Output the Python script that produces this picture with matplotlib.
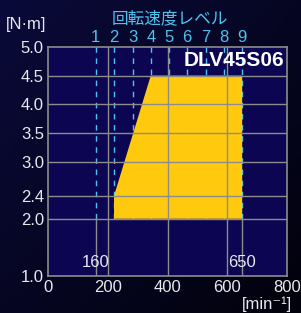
import numpy as np
import matplotlib.pyplot as plt
from matplotlib.colors import LinearSegmentedColormap
from matplotlib.patches import Polygon

# speed levels (1..9) and their rpm positions
levels = ["1", "2", "3", "4", "5", "6", "7", "8", "9"]
level_rpm = [160, 221, 283, 344, 405, 466, 528, 589, 650]

# operating area outline [min^-1], [N·m]
area_rpm = [221, 221, 344, 650, 650]
area_torque = [2.0, 2.4, 4.5, 4.5, 2.0]

xticks = [0, 200, 400, 600, 800]
yticks = [1.0, 2.0, 2.4, 3.0, 3.5, 4.0, 4.5, 5.0]

num_font = ["Liberation Sans Narrow", "DejaVu Sans Condensed", "Liberation Sans", "DejaVu Sans"]
cjk_font = ["Noto Sans CJK JP", "DejaVu Sans"]

navy = "#0b0552"
yellow = "#ffc90e"
grid_c = "#8c8c8c"
cyan = "#4ec3f0"
light = "#e8e8ee"

fig = plt.figure(figsize=(3.01, 3.13), dpi=100)
fig.patch.set_facecolor("#05041c")

# background gradient (dark left/bottom -> navy top right)
bg = fig.add_axes([0, 0, 1, 1], zorder=-5)
gx, gy = np.meshgrid(np.linspace(0, 1, 50), np.linspace(0, 1, 50))
bg.imshow(gx * 0.5 + gy * 0.5, cmap=LinearSegmentedColormap.from_list("bg", ["#0a0a3a", "#02020c"]),
          extent=[0, 1, 0, 1], aspect="auto")
bg.axis("off")

ax = fig.add_axes([48 / 301, 1 - 276 / 313, 239 / 301, 229 / 313])
ax.set_facecolor(navy)
ax.set_xlim(0, 800)
ax.set_ylim(1.0, 5.0)

# dashed level lines (behind the area)
for r in level_rpm:
    ax.plot([r, r], [2.0, 5.0], color=cyan, lw=1, ls=(0, (4, 4)), zorder=1)
# solid reference lines at 160 / 650 below 2.0
for r in [level_rpm[0], level_rpm[-1]]:
    ax.plot([r, r], [1.0, 2.0], color=grid_c, lw=1, zorder=3)

ax.add_patch(Polygon(np.column_stack([area_rpm, area_torque]), closed=True,
                     facecolor=yellow, edgecolor="none", zorder=2))

# grid
for x in xticks[1:-1]:
    ax.axvline(x, color=grid_c, lw=1, zorder=3)
for y in yticks[1:-1]:
    ax.axhline(y, color=grid_c, lw=1, zorder=3)

for s in ax.spines.values():
    s.set_color(grid_c)
    s.set_linewidth(1.2)
    s.set_zorder(4)

ax.set_xticks(xticks)
ax.set_yticks(yticks)
ax.set_xticklabels([str(v) for v in xticks], family=num_font, fontsize=12, color=light)
ax.set_yticklabels([f"{v:.1f}" for v in yticks], family=num_font, fontsize=12, color=light)
ax.tick_params(length=0, pad=3)

# in-plot labels
ax.text(level_rpm[0], 1.1, "160", family=num_font, fontsize=12, color=light,
        ha="center", va="bottom", zorder=5)
ax.text(level_rpm[-1], 1.1, "650", family=num_font, fontsize=12, color=light,
        ha="center", va="bottom", zorder=5)
ax.text(790, 4.76, "DLV45S06", family=num_font, fontsize=15, weight="bold",
        color="white", ha="right", va="center", zorder=5)

# level numbers above the axes
for lab, r in zip(levels, level_rpm):
    ax.text(r, 5.17, lab, family=num_font, fontsize=12, color=cyan,
            ha="center", va="center", clip_on=False)

fig.text(169.5 / 301, 1 - 19 / 313, "回転速度レベル", family=cjk_font, fontsize=12,
         color=cyan, ha="center", va="center")
fig.text(26 / 301, 1 - 25 / 313, "[N·m]", family=num_font, fontsize=12,
         color=light, ha="center", va="center")
fig.text(267 / 301, 1 - 304 / 313, "[min⁻¹]", family=num_font, fontsize=12,
         color=light, ha="center", va="center")

fig.savefig("out.png", dpi=100, facecolor=fig.get_facecolor())
